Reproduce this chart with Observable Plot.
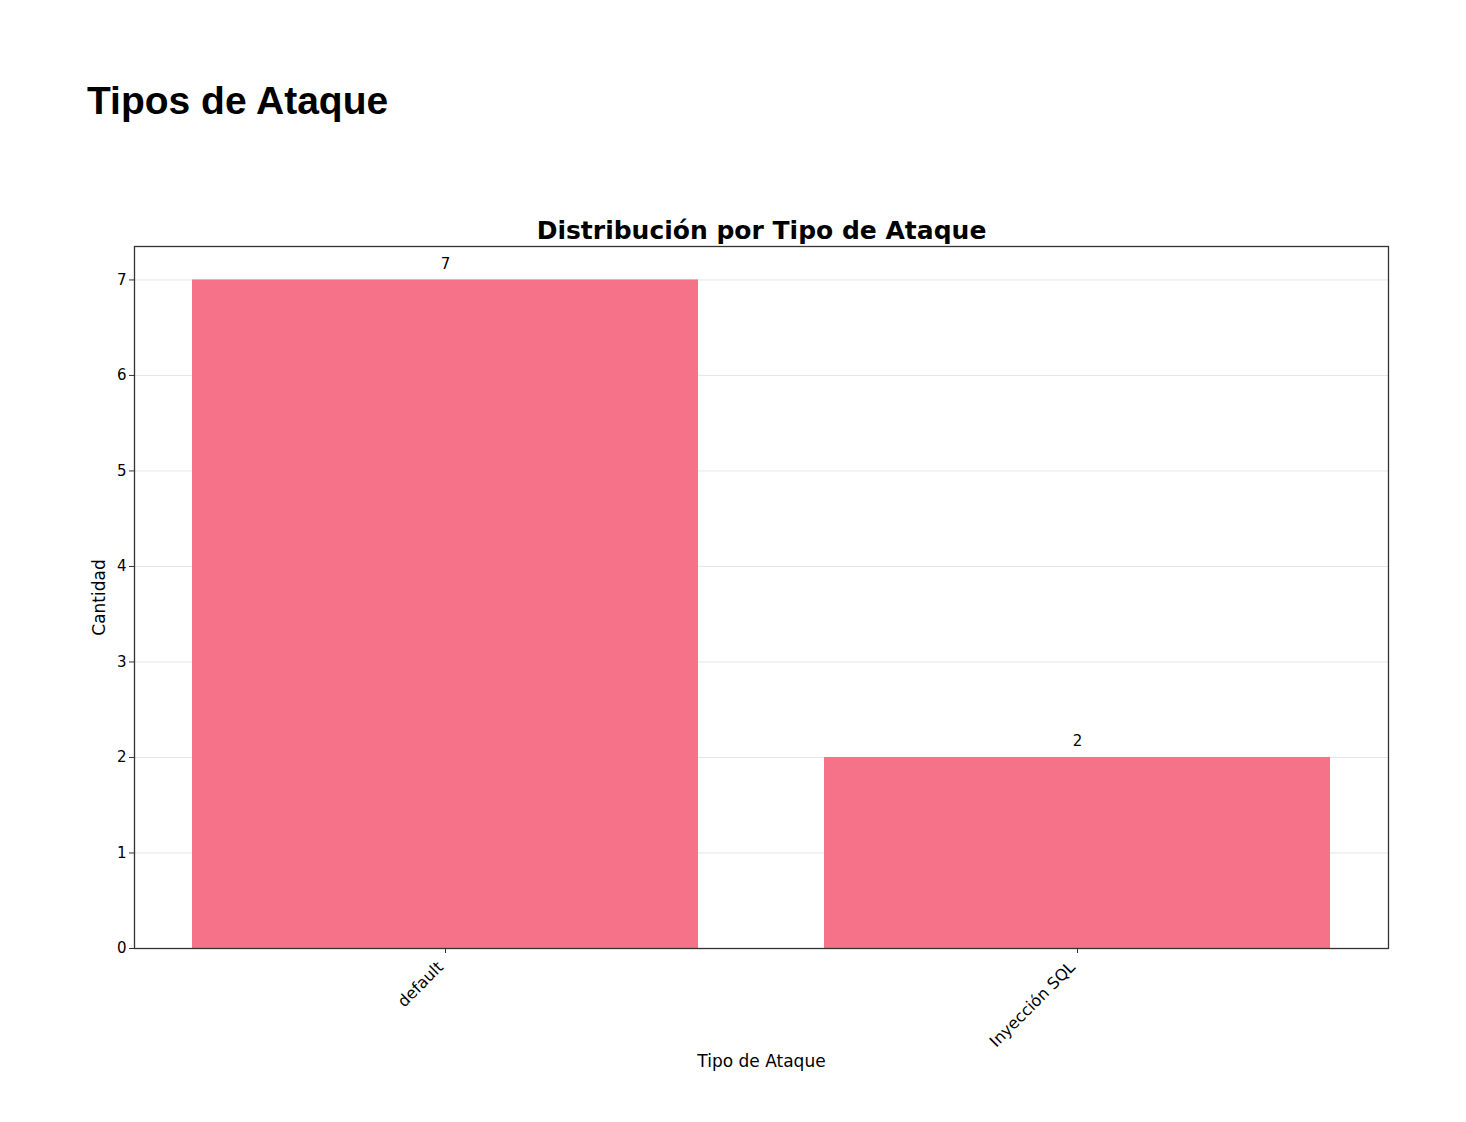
<!DOCTYPE html>
<html><head><meta charset="utf-8">
<script src="https://cdn.jsdelivr.net/npm/d3@7"></script>
<script src="https://cdn.jsdelivr.net/npm/@observablehq/plot@0.6"></script>
<style>
body{margin:0;background:#fff;width:1466px;height:1122px;position:relative;overflow:hidden}
h1{position:absolute;left:87px;top:78px;margin:0;font-family:"Liberation Sans",Arial,sans-serif;font-weight:bold;font-size:39px;line-height:46px;color:#000}
#chart{position:absolute;left:0;top:200px}
</style></head><body>
<h1>Tipos de Ataque</h1>
<div id="chart"></div>
<script>
const categories = ["default", "Inyección SQL"];
const counts = [7, 2];
const yTicks = [0, 1, 2, 3, 4, 5, 6, 7];
const chartTitle = "Distribución por Tipo de Ataque";
const xLabel = "Tipo de Ataque";
const yLabel = "Cantidad";

const data = categories.map((c, i) => ({cat: c, n: counts[i]}));
const font = "DejaVu Sans, sans-serif";

const plot = Plot.plot({
  width: 1466, height: 900,
  marginLeft: 134, marginRight: 78, marginTop: 46, marginBottom: 152,
  style: {fontFamily: font, fontSize: "15px", color: "#000", background: "#fff"},
  x: {domain: categories, paddingInner: 0.2, paddingOuter: 0.092, label: null},
  y: {domain: [0, 7.35], label: null},
  marks: [
    Plot.gridY(yTicks, {stroke: "#e6e6e6", strokeOpacity: 1, strokeWidth: 1}),
    Plot.barY(data, {x: "cat", y: "n", fill: "#f67289"}),
    Plot.axisY(yTicks, {tickSize: 5, tickPadding: 3, fontSize: 15, tickFormat: "d", stroke: "#333", fill: "#000", label: null}),
    Plot.axisX(categories, {tickSize: 5, tickFormat: () => "", stroke: "#333", label: null}),
    Plot.axisX(categories, {tickSize: 0, tickRotate: -45, textAnchor: "end", tickPadding: 16, dx: -5, fontSize: 16, fill: "#000", label: null}),
    Plot.frame({stroke: "#333", strokeWidth: 1.3}),
    Plot.text(data, {x: "cat", y: "n", text: d => String(d.n), dy: -16, fontSize: 15, fill: "#000"}),
    Plot.text([chartTitle], {frameAnchor: "top", lineAnchor: "bottom", dy: -8, fontSize: 25, fontWeight: "bold", fill: "#000"}),
    Plot.text([xLabel], {frameAnchor: "bottom", dy: 118, fontSize: 17, fill: "#000"}),
    Plot.text([yLabel], {frameAnchor: "left", textAnchor: "middle", dx: -35, rotate: -90, fontSize: 17, fill: "#000"})
  ]
});
document.getElementById("chart").appendChild(plot);
</script>
</body></html>
